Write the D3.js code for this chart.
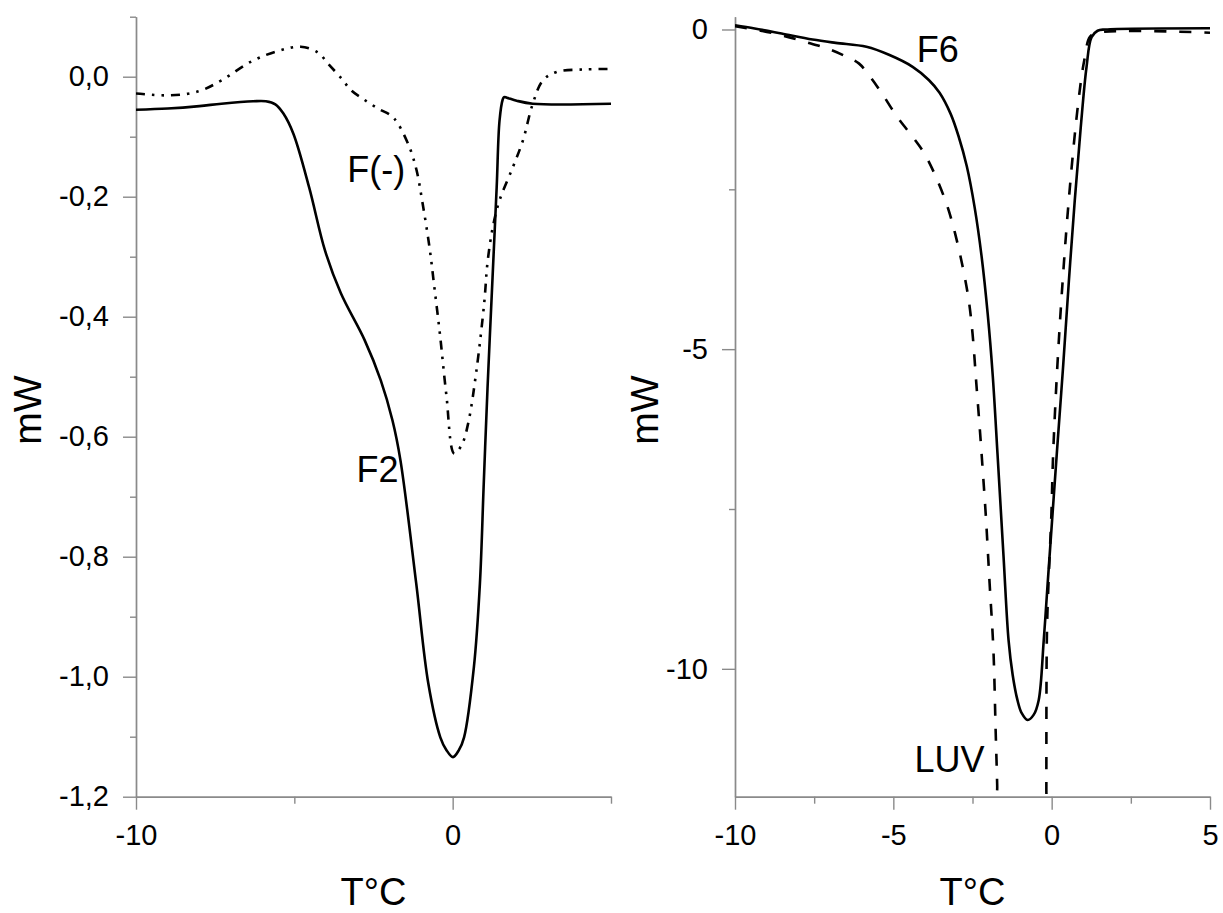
<!DOCTYPE html>
<html><head><meta charset="utf-8">
<script src="https://cdn.jsdelivr.net/npm/d3@7"></script>
<style>
body{margin:0;background:#fff}
svg text{font-family:"Liberation Sans",Arial,sans-serif;fill:#000}
</style>
</head><body>
<svg id="chart" width="1223" height="913"></svg>
<script>
// ---------- Left panel data (T °C, mW) ----------
const f2T = [-10,-9,-8,-7.3,-6.3,-5.9,-5.6,-5.35,-5.03,-4.53,-4.03,-3.53,-2.78,-2.27,-1.9,-1.65,-1.15,-0.77,-0.39,-0.2,0.01,0.2,0.36,0.67,0.86,0.98,1.1,1.26,1.39,1.48,1.58,1.62,1.71,2.02,2.53,5];
const f2V = [-0.055,-0.053,-0.049,-0.045,-0.041,-0.041,-0.046,-0.061,-0.095,-0.185,-0.29,-0.361,-0.439,-0.506,-0.573,-0.639,-0.845,-1.011,-1.101,-1.122,-1.134,-1.122,-1.101,-0.984,-0.845,-0.68,-0.52,-0.334,-0.184,-0.073,-0.038,-0.034,-0.035,-0.04,-0.045,-0.045];

const fmT = [-10,-8.9,-8,-7.3,-6.3,-5.5,-4.8,-4.25,-3.94,-3.51,-3.2,-2.83,-2.36,-1.94,-1.73,-1.36,-1.14,-0.95,-0.73,-0.58,-0.4,-0.2,0.05,0.3,0.5,0.75,1.0,1.1,1.27,1.48,1.9,2.22,2.53,2.85,3.28,4.12,5];
const fmV = [-0.028,-0.031,-0.024,-0.006,0.027,0.043,0.05,0.04,0.022,-0.003,-0.023,-0.037,-0.053,-0.065,-0.078,-0.118,-0.156,-0.211,-0.285,-0.35,-0.43,-0.53,-0.628,-0.612,-0.575,-0.49,-0.375,-0.31,-0.25,-0.206,-0.151,-0.106,-0.045,-0.006,0.008,0.012,0.013];

// ---------- Right panel data ----------
const f6T = [-10,-9.38,-8.53,-7.55,-6.82,-5.85,-5.12,-4.39,-3.88,-3.54,-3.19,-2.94,-2.68,-2.43,-2.21,-2.02,-1.86,-1.71,-1.52,-1.36,-1.23,-1.08,-0.95,-0.76,-0.57,-0.41,-0.25,-0.126,0.02,0.17,0.36,0.54,0.73,0.92,1.1,1.26,1.45,1.7,5];
const f6V = [0.067,0.016,-0.063,-0.156,-0.209,-0.271,-0.4,-0.584,-0.79,-0.99,-1.32,-1.67,-2.14,-2.79,-3.56,-4.45,-5.42,-6.64,-8.24,-9.56,-10.1,-10.49,-10.69,-10.8,-10.72,-10.49,-9.55,-8.66,-7.63,-6.58,-5.28,-3.96,-2.67,-1.52,-0.59,-0.12,-0.02,0,0.02];

const luvT = [-10,-9.26,-8.53,-7.8,-7.07,-6.46,-6.09,-5.73,-5.36,-4.88,-4.39,-4.02,-3.66,-3.29,-3.05,-2.81,-2.62,-2.5,-2.38,-2.26,-2.2,-2.08,-1.96,-1.84,-1.77,-1.72,-1.69,-0.17,-0.168,-0.15,-0.1,-0.01,0.05,0.24,0.54,0.85,1.03,1.21,1.45,5];
const luvV = [0.05,-0.01,-0.09,-0.19,-0.3,-0.43,-0.53,-0.74,-1.0,-1.365,-1.68,-1.94,-2.3,-2.77,-3.19,-3.71,-4.23,-4.75,-5.53,-6.31,-6.73,-7.6,-8.66,-9.7,-10.95,-11.83,-12.6,-12.6,-11.9,-9.45,-8.66,-7.6,-6.6,-4.75,-2.67,-1.1,-0.48,-0.115,-0.05,-0.05];

// ---------- Ticks ----------
const leftYMajor = [-1.2,-1.0,-0.8,-0.6,-0.4,-0.2,0.0];
const leftYLabels = ["-1,2","-1,0","-0,8","-0,6","-0,4","-0,2","0,0"];
const leftYMinor = [-1.1,-0.9,-0.7,-0.5,-0.3,-0.1,0.1];
const leftXMajor = [-10,0];
const leftXLabels = ["-10","0"];
const leftXMinor = [-5,5];

const rightYMajor = [-10,-5,0];
const rightYLabels = ["-10","-5","0"];
const rightYMinor = [-7.5,-2.5];
const rightXMajor = [-10,-5,0,5];
const rightXLabels = ["-10","-5","0","5"];
const rightXMinor = [-7.5,-2.5,2.5];

const svg = d3.select("#chart");
svg.append("rect").attr("width",1223).attr("height",913).attr("fill","#fff");

const Y0 = 796.7, Y1 = 16.7;
const axisColor = "#8a8a8a";

function styleAxis(g, fs){
  g.attr("font-size", null).attr("font-family", null);
  g.select(".domain").attr("stroke", axisColor).attr("stroke-width", 1.4);
  g.selectAll(".tick line").attr("stroke", axisColor).attr("stroke-width", 1.4);
  g.selectAll(".tick text").attr("font-size", fs + "px").attr("fill", "#000");
}

function panel(cfg){
  const x = d3.scaleLinear().domain([-10,5]).range(cfg.xr);
  const y = d3.scaleLinear().domain(cfg.yd).range([Y0,Y1]);
  const g = svg.append("g");

  // minor ticks
  g.append("g").attr("transform",`translate(0,${Y0})`)
    .call(d3.axisBottom(x).tickValues(cfg.xMinor).tickSize(7).tickSizeOuter(0).tickFormat(""))
    .call(s=>styleAxis(s,29));
  g.append("g").attr("transform",`translate(${cfg.xr[0]},0)`)
    .call(d3.axisLeft(y).tickValues(cfg.yMinor).tickSize(6).tickSizeOuter(0).tickFormat(""))
    .call(s=>styleAxis(s,29));
  // major ticks
  g.append("g").attr("transform",`translate(0,${Y0})`)
    .call(d3.axisBottom(x).tickValues(cfg.xMajor).tickSize(13).tickPadding(15).tickSizeOuter(0)
      .tickFormat((d,i)=>cfg.xLabels[i]))
    .call(s=>styleAxis(s,29));
  g.append("g").attr("transform",`translate(${cfg.xr[0]},0)`)
    .call(d3.axisLeft(y).tickValues(cfg.yMajor).tickSize(13).tickPadding(14).tickSizeOuter(0)
      .tickFormat((d,i)=>cfg.yLabels[i]))
    .call(s=>styleAxis(s,29));

  // clip
  const cid = "clip" + cfg.id;
  svg.append("clipPath").attr("id",cid).append("rect")
    .attr("x",cfg.xr[0]).attr("y",Y1).attr("width",cfg.xr[1]-cfg.xr[0]).attr("height",Y0-Y1);

  const line = d3.line().x(d=>x(d[0])).y(d=>y(d[1])).curve(d3.curveCatmullRom.alpha(0.5));
  const lg = g.append("g").attr("clip-path",`url(#${cid})`);
  cfg.series.forEach(s=>{
    const pts = s.t.map((t,i)=>[t,s.v[i]]);
    lg.append("path").attr("d",line(pts)).attr("fill","none")
      .attr("stroke","#000").attr("stroke-width",2.6)
      .attr("stroke-linejoin","round")
      .attr("stroke-dasharray",s.dash || null);
  });

  cfg.labels.forEach(l=>{
    g.append("text").attr("x",x(l.t)).attr("y",y(l.v)).attr("font-size","36px").text(l.text);
  });

  // axis titles
  g.append("text").attr("x",(cfg.xr[0]+cfg.xr[1])/2).attr("y",905)
    .attr("text-anchor","middle").attr("font-size","38px").text("T°C");
  g.append("text").attr("transform",`translate(${cfg.yTitleX},410) rotate(-90)`)
    .attr("text-anchor","middle").attr("font-size","39px").text("mW");
}

panel({
  id:"L", xr:[136,611], yd:[-1.2,0.1],
  xMajor:leftXMajor, xLabels:leftXLabels, xMinor:leftXMinor,
  yMajor:leftYMajor, yLabels:leftYLabels, yMinor:leftYMinor,
  yTitleX:41,
  series:[
    {t:fmT, v:fmV, dash:"9,7,2.5,7,2.5,7"},
    {t:f2T, v:f2V}
  ],
  labels:[{text:"F(-)",t:-3.33,v:-0.176},{text:"F2",t:-3.04,v:-0.676}]
});

panel({
  id:"R", xr:[735,1210], yd:[-12,0.2],
  xMajor:rightXMajor, xLabels:rightXLabels, xMinor:rightXMinor,
  yMajor:rightYMajor, yLabels:rightYLabels, yMinor:rightYMinor,
  yTitleX:658,
  series:[
    {t:luvT, v:luvV, dash:"12,13"},
    {t:f6T, v:f6V}
  ],
  labels:[{text:"F6",t:-4.26,v:-0.508},{text:"LUV",t:-4.33,v:-11.61}]
});
</script>
</body></html>
